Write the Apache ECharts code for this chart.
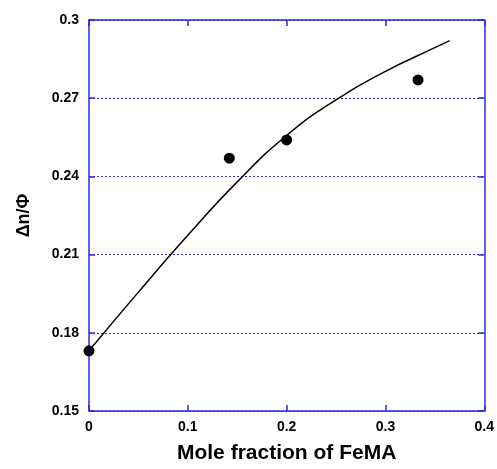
<!DOCTYPE html>
<html>
<head>
<meta charset="utf-8">
<script src="https://cdn.jsdelivr.net/npm/echarts@6/dist/echarts.min.js"></script>
<style>html,body{margin:0;padding:0;background:#fff}#c{width:497px;height:469px}</style>
</head>
<body>
<div id="c"></div>
<script>
// Measured points
var moleFraction = [0, 0.142, 0.2, 0.333];
var deltaN = [0.1731, 0.247, 0.254, 0.277];
// Fitted curve
var fitX = [0, 0.05, 0.1, 0.15, 0.2, 0.25, 0.3, 0.35, 0.365];
var fitY = [0.1731, 0.1956, 0.2174, 0.2379, 0.2557, 0.2694, 0.2803, 0.2894, 0.2921];
// Axis ticks
var xTicks = [0, 0.1, 0.2, 0.3, 0.4];
var yTicks = [0.15, 0.18, 0.21, 0.24, 0.27, 0.3];

var blue = '#2a2ae0';
var font = '"Liberation Sans", Arial, sans-serif';
var chart = echarts.init(document.getElementById('c'));

function pairs(xs, ys) { return xs.map(function (x, i) { return [x, ys[i]]; }); }

var xBase = {
  type: 'value', min: xTicks[0], max: xTicks[xTicks.length - 1], interval: 0.1,
  axisLine: { show: true, onZero: false, lineStyle: { color: blue, width: 1.5 } },
  axisTick: { show: true, inside: true, length: 6, lineStyle: { color: blue, width: 1.5 } },
  splitLine: { show: false }
};
var yBase = {
  type: 'value', min: yTicks[0], max: yTicks[yTicks.length - 1], interval: 0.03,
  axisLine: { show: true, onZero: false, lineStyle: { color: blue, width: 1.5 } },
  axisTick: { show: true, inside: true, length: 6, lineStyle: { color: blue, width: 1.5 } }
};

chart.setOption({
  animation: false,
  backgroundColor: '#fff',
  grid: { left: 89, right: 11, top: 20, bottom: 53, containLabel: false },
  xAxis: [
    Object.assign({}, xBase, {
      position: 'bottom',
      axisLabel: { color: '#000', fontFamily: font, fontWeight: 'bold', fontSize: 14, margin: 9 },
      name: 'Mole fraction of FeMA', nameLocation: 'middle', nameGap: 32,
      nameTextStyle: { color: '#000', fontFamily: font, fontWeight: 'bold', fontSize: 21 }
    }),
    Object.assign({}, xBase, { position: 'top', axisLabel: { show: false } })
  ],
  yAxis: [
    Object.assign({}, yBase, {
      position: 'left',
      axisLabel: { color: '#000', fontFamily: font, fontWeight: 'bold', fontSize: 14, margin: 10 },
      splitLine: { show: true, lineStyle: { color: [blue, blue, blue, blue, '#1c1c7a', blue], type: [2, 2], width: 1 } },
      name: 'Δn/Φ', nameLocation: 'middle', nameGap: 56, nameRotate: 90,
      nameTextStyle: { color: '#000', fontFamily: font, fontWeight: 'bold', fontSize: 18 }
    }),
    Object.assign({}, yBase, { position: 'right', axisLabel: { show: false }, splitLine: { show: false } })
  ],
  series: [
    {
      type: 'line', data: pairs(fitX, fitY), smooth: 0.5, showSymbol: false, symbol: 'none',
      lineStyle: { color: '#000', width: 1.5 }, z: 3
    },
    {
      type: 'scatter', data: pairs(moleFraction, deltaN), symbol: 'circle', symbolSize: 11,
      itemStyle: { color: '#000', opacity: 1 }, z: 4
    }
  ]
});
</script>
</body>
</html>
